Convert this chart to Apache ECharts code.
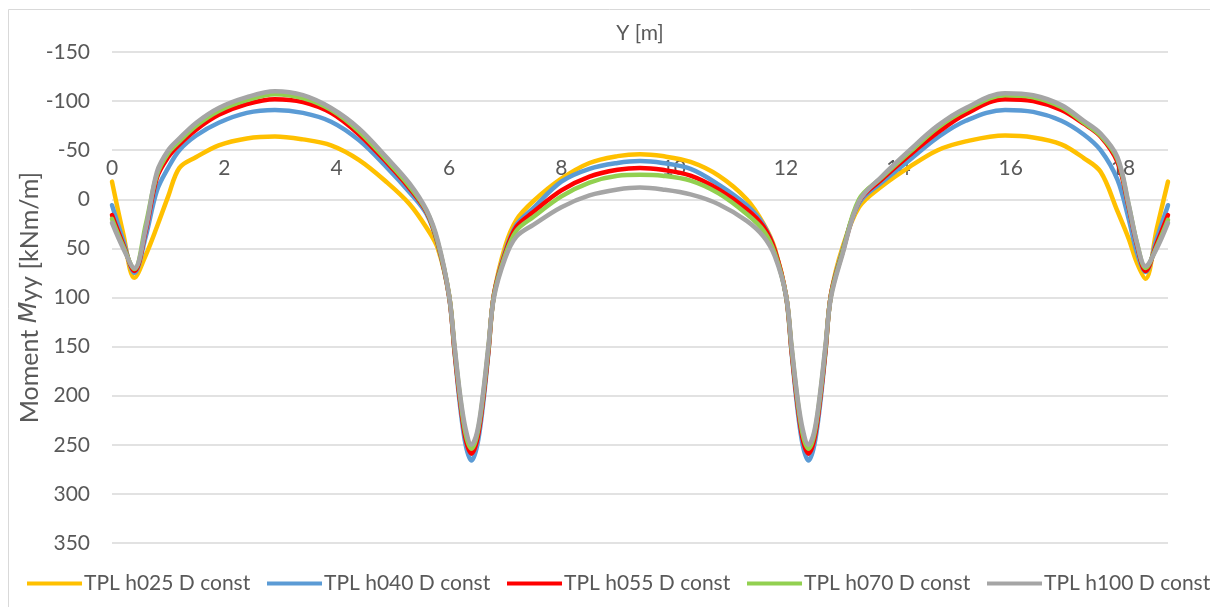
<!DOCTYPE html>
<html>
<head>
<meta charset="utf-8">
<style>
    html, body { margin: 0; padding: 0; background: #fff; }
    #chart { width: 1210px; height: 607px; }
</style>
<script src="https://cdn.jsdelivr.net/npm/echarts@6.0.0/dist/echarts.min.js"></script>
</head>
<body>
<div id="chart"></div>
<script>
// posição Y [m] ao longo da secção
const posY = [0, 0.2, 0.4, 0.6, 0.8, 1.0, 1.2, 1.5, 1.9, 2.4, 2.9, 3.4, 3.9, 4.4, 4.9, 5.3, 5.6, 5.8, 6.0, 6.1,
    6.2, 6.3, 6.4, 6.5, 6.6, 6.7, 6.8, 7.0, 7.2, 7.5, 8.0, 8.5, 9.0, 9.4, 9.8, 10.3, 10.8, 11.3, 11.6, 11.8,
    12.0, 12.1, 12.2, 12.3, 12.4, 12.5, 12.6, 12.7, 12.8, 13.0, 13.3, 13.7, 14.2, 14.7, 15.2, 15.9, 16.4, 16.9, 17.3, 17.6,
    17.9, 18.1, 18.25, 18.4, 18.6, 18.8];

const seriesNames = ['TPL h025 D const', 'TPL h040 D const', 'TPL h055 D const', 'TPL h070 D const', 'TPL h100 D const'];

// Myy [kNm/m]
const h025 = [-18, 35, 80, 57, 28, -3, -32, -43, -55, -62, -64, -61, -55, -40, -17, 5, 29, 50, 98, 155,
    205, 243, 256, 243, 205, 155, 97, 48, 21, 2, -21, -37, -44, -46, -44, -38, -24, 0, 25, 50,
    98, 155, 205, 243, 256, 243, 205, 155, 97, 50, 8, -13, -33, -50, -59, -65, -63, -56, -42, -28,
    12, 40, 65, 81, 30, -18];
const h040 = [6, 42, 75, 38, -9, -32, -50, -65, -78, -88, -91, -88, -79, -60, -32, -7, 15, 46, 99, 157,
    212, 251, 266, 251, 212, 157, 97, 53, 26, 9, -18, -31, -37, -39, -37, -31, -15, 6, 26, 52,
    99, 157, 212, 251, 266, 251, 212, 157, 97, 53, 4, -17, -40, -63, -80, -91, -89, -80, -66, -50,
    -20, 20, 55, 74, 40, 6];
const h055 = [16, 46, 73, 32, -22, -43, -56, -71, -86, -97, -102, -99, -88, -66, -37, -11, 13, 45, 98, 155,
    207, 245, 259, 245, 207, 155, 97, 55, 28, 13, -9, -23, -30, -32, -30, -24, -10, 10, 28, 52,
    98, 155, 207, 245, 259, 245, 207, 155, 97, 55, 2, -20, -45, -68, -87, -102, -100, -91, -77, -64,
    -38, 8, 47, 73, 45, 16];
const h070 = [20, 48, 71, 26, -25, -47, -59, -75, -90, -101, -107, -103, -91, -69, -39, -13, 12, 44, 97, 152,
    203, 240, 254, 240, 203, 152, 98, 57, 32, 18, -3, -17, -24, -25, -24, -19, -6, 15, 32, 55,
    98, 152, 203, 240, 254, 240, 203, 152, 98, 55, 0, -22, -48, -73, -91, -106, -104, -94, -78, -65,
    -41, 6, 45, 70, 48, 21];
const h100 = [24, 50, 70, 30, -28, -50, -62, -78, -93, -104, -110, -106, -93, -72, -42, -16, 11, 42, 97, 150,
    200, 235, 250, 237, 200, 150, 100, 60, 38, 26, 8, -4, -10, -12, -10, -5, 5, 22, 38, 58,
    98, 150, 200, 235, 250, 237, 200, 150, 100, 57, 2, -23, -50, -75, -93, -108, -106, -96, -80, -67,
    -43, 5, 45, 68, 50, 24];

const seriesValues = [h025, h040, h055, h070, h100];
const colors = ['#FFC000', '#5B9BD5', '#FF0000', '#92D050', '#A5A5A5'];

document.addEventListener('DOMContentLoaded', () => {
    const el = document.getElementById('chart');
    if (!el) return;

    const chart = echarts.init(el, null, { renderer: 'canvas' });

    const font = 'Lato';
    const textColor = '#595959';

    const legendLeft = [22, 262, 502, 742, 982];

    const option = {
        animation: false,
        backgroundColor: '#fff',
        color: colors,
        grid: { left: 112, right: 42, top: 52, bottom: 64, containLabel: false },
        graphic: [
            {
                type: 'rect',
                shape: { x: 8.5, y: 9.5, width: 1220, height: 620 },
                style: { fill: 'none', stroke: '#d9d9d9', lineWidth: 1 },
                silent: true
            },
            {
                type: 'text',
                x: 640,
                y: 33,
                style: {
                    text: 'Y [m]',
                    fill: textColor,
                    font: `21px ${font}`,
                    align: 'center',
                    verticalAlign: 'middle'
                }
            }
        ],
        legend: seriesNames.map((name, i) => ({
            data: [name],
            left: legendLeft[i],
            top: 568,
            icon: 'rect',
            itemWidth: 55,
            itemHeight: 4,
            itemGap: 0,
            textStyle: { color: textColor, fontSize: 21, fontFamily: font, padding: [0, 0, 0, -3] }
        })),
        xAxis: {
            type: 'value',
            min: 0,
            max: 18.8,
            interval: 2,
            position: 'top',
            offset: -147, // eixo desenhado na linha do zero
            axisLine: { show: false, onZero: false },
            axisTick: { show: false },
            splitLine: { show: false },
            axisLabel: {
                color: textColor,
                fontSize: 21,
                fontFamily: font,
                margin: 20,
                showMaxLabel: false
            }
        },
        yAxis: {
            type: 'value',
            inverse: true,
            min: -150,
            max: 350,
            interval: 50,
            name: '{a|Moment }{b|M}{a|yy [kNm/m]}',
            nameLocation: 'middle',
            nameGap: 70,
            nameMoveOverlap: false,
            nameRotate: 90,
            nameTextStyle: {
                rich: {
                    a: { color: textColor, fontSize: 25, fontFamily: font },
                    b: { color: textColor, fontSize: 25, fontFamily: 'DejaVu Sans', fontStyle: 'italic' }
                }
            },
            axisLine: { show: false },
            axisTick: { show: false },
            splitLine: { lineStyle: { color: '#d9d9d9', width: 1.5 } },
            axisLabel: { color: textColor, fontSize: 21, fontFamily: font, margin: 22 }
        },
        series: seriesNames.map((name, i) => ({
            name,
            type: 'line',
            data: posY.map((x, k) => [x, seriesValues[i][k]]),
            smooth: 0.35,
            symbol: 'none',
            showSymbol: false,
            lineStyle: { width: 4.5, color: colors[i], cap: 'round', join: 'round' },
            itemStyle: { color: colors[i] },
            z: 2 + i
        }))
    };

    chart.setOption(option, true);

    window.addEventListener('resize', () => {
        try {
            chart.resize();
        } catch (e) { }
    });
});
</script>
</body>
</html>
